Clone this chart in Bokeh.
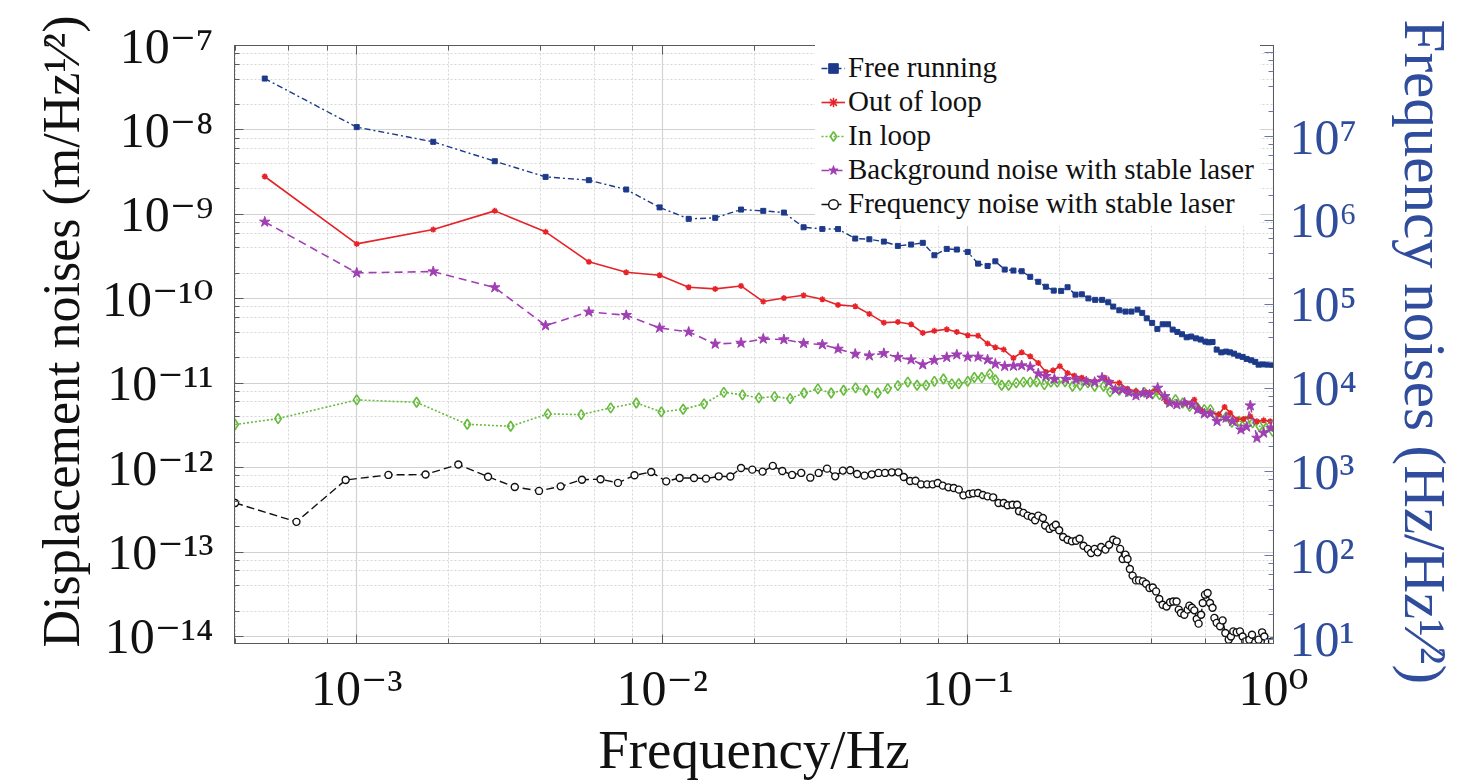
from bokeh.plotting import figure
from bokeh.models import (Range1d, LogAxis, LogScale, LogTicker, Legend, LegendItem,
                          CustomJSTickFormatter)
from bokeh.embed import file_html
from bokeh.resources import INLINE

# ---------------- data ----------------
free_f = [5.0e-4, 1.0e-3, 1.78e-3, 2.83e-3, 4.15e-3, 5.75e-3, 7.62e-3, 9.80e-3, 1.22e-2, 1.49e-2,
          1.81e-2, 2.14e-2, 2.50e-2, 2.90e-2, 3.34e-2, 3.76e-2, 4.28e-2, 4.76e-2, 5.31e-2, 5.90e-2,
          6.52e-2, 7.12e-2, 7.77e-2, 8.53e-2, 9.20e-2, 0.0999, 0.108, 0.116, 0.123, 0.132,
          0.141, 0.150, 0.160, 0.170, 0.180, 0.191, 0.202, 0.212, 0.225, 0.236,
          0.248, 0.261, 0.275, 0.288, 0.299, 0.313, 0.328, 0.343, 0.359, 0.372,
          0.385, 0.401, 0.417, 0.434, 0.452, 0.468, 0.485, 0.502, 0.520, 0.538,
          0.558, 0.578, 0.599, 0.614, 0.632, 0.652, 0.675, 0.700, 0.721, 0.743,
          0.766, 0.793, 0.817, 0.846, 0.872, 0.894, 0.922, 0.957, 0.994]
free_v = [4.06e-8, 1.08e-8, 7.23e-9, 4.26e-9, 2.78e-9, 2.54e-9, 1.97e-9, 1.21e-9, 8.85e-10, 9.09e-10,
          1.14e-9, 1.10e-9, 1.05e-9, 7.03e-10, 6.73e-10, 6.70e-10, 5.17e-10, 5.07e-10, 4.76e-10, 4.23e-10,
          4.39e-10, 4.60e-10, 3.28e-10, 3.90e-10, 3.83e-10, 3.59e-10, 2.61e-10, 2.45e-10, 2.78e-10, 2.22e-10,
          2.16e-10, 2.12e-10, 1.82e-10, 1.59e-10, 1.39e-10, 1.25e-10, 1.24e-10, 1.37e-10, 1.12e-10, 1.13e-10,
          1.01e-10, 9.71e-11, 9.71e-11, 9.09e-11, 8.09e-11, 7.31e-11, 7.06e-11, 7.06e-11, 7.45e-11, 6.81e-11,
          5.87e-11, 5.18e-11, 4.40e-11, 4.99e-11, 4.99e-11, 4.32e-11, 4.05e-11, 3.80e-11, 3.50e-11, 3.57e-11,
          3.40e-11, 3.29e-11, 3.11e-11, 3.05e-11, 3.08e-11, 2.50e-11, 2.32e-11, 2.37e-11, 2.32e-11, 2.24e-11,
          2.12e-11, 2.05e-11, 1.94e-11, 1.87e-11, 1.79e-11, 1.66e-11, 1.67e-11, 1.66e-11, 1.65e-11]

out_f = [5.0e-4, 1.0e-3, 1.78e-3, 2.83e-3, 4.15e-3, 5.75e-3, 7.62e-3, 9.80e-3, 1.22e-2, 1.49e-2,
         1.81e-2, 2.14e-2, 2.50e-2, 2.90e-2, 3.34e-2, 3.76e-2, 4.28e-2, 4.76e-2, 5.31e-2, 5.90e-2,
         6.52e-2, 7.12e-2, 7.77e-2, 8.53e-2, 9.20e-2, 0.0999, 0.108, 0.116, 0.123, 0.131,
         0.141, 0.150, 0.160, 0.170, 0.180, 0.190, 0.200, 0.212, 0.223, 0.236,
         0.260, 0.280, 0.292, 0.313, 0.333, 0.355, 0.383, 0.413, 0.446, 0.481,
         0.518, 0.551, 0.586, 0.622, 0.662, 0.692, 0.722, 0.760, 0.799, 0.840,
         0.883, 0.929, 0.976]
out_v = [2.81e-9, 4.47e-10, 6.61e-10, 1.10e-9, 6.21e-10, 2.74e-10, 2.06e-10, 1.90e-10, 1.37e-10, 1.31e-10,
         1.42e-10, 9.27e-11, 1.02e-10, 1.10e-10, 9.86e-11, 8.47e-11, 8.15e-11, 6.62e-11, 5.22e-11, 5.32e-11,
         4.99e-11, 3.94e-11, 4.17e-11, 4.35e-11, 4.05e-11, 3.69e-11, 3.66e-11, 2.95e-11, 2.66e-11, 2.50e-11,
         1.99e-11, 2.32e-11, 2.08e-11, 1.74e-11, 1.36e-11, 1.42e-11, 1.59e-11, 1.32e-11, 1.23e-11, 1.16e-11,
         1.05e-11, 1.16e-11, 1.03e-11, 1.01e-11, 8.56e-12, 8.02e-12, 7.80e-12, 8.40e-12, 6.10e-12, 5.58e-12,
         5.84e-12, 6.39e-12, 4.65e-12, 4.45e-12, 4.25e-12, 5.24e-12, 4.45e-12, 3.71e-12, 3.77e-12, 4.05e-12,
         3.54e-12, 3.63e-12, 3.54e-12]

in_f = [4.0e-4, 5.53e-4, 1.0e-3, 1.57e-3, 2.30e-3, 3.19e-3, 4.22e-3, 5.43e-3, 6.78e-3, 8.22e-3,
        9.93e-3, 1.17e-2, 1.37e-2, 1.59e-2, 1.83e-2, 2.07e-2, 2.33e-2, 2.62e-2, 2.91e-2, 3.23e-2,
        3.57e-2, 3.92e-2, 4.29e-2, 4.65e-2, 5.07e-2, 5.47e-2, 5.90e-2, 6.36e-2, 6.82e-2, 7.30e-2,
        7.77e-2, 8.32e-2, 8.86e-2, 9.34e-2, 0.0999, 0.105, 0.111, 0.118, 0.123, 0.129,
        0.136, 0.144, 0.152, 0.160, 0.168, 0.178, 0.187, 0.196, 0.208, 0.220,
        0.233, 0.247, 0.260, 0.278, 0.292, 0.313, 0.333, 0.355, 0.378, 0.403,
        0.424, 0.451, 0.478, 0.505, 0.532, 0.565, 0.594, 0.622, 0.662, 0.700,
        0.731, 0.772, 0.812, 0.855, 0.900, 0.946, 0.994]
in_v = [3.24e-12, 3.81e-12, 6.34e-12, 5.94e-12, 3.26e-12, 3.09e-12, 4.33e-12, 4.25e-12, 5.10e-12, 5.84e-12,
        4.57e-12, 4.91e-12, 5.69e-12, 7.80e-12, 7.27e-12, 6.70e-12, 6.94e-12, 6.57e-12, 7.67e-12, 8.56e-12,
        7.67e-12, 8.24e-12, 8.80e-12, 8.24e-12, 7.67e-12, 8.63e-12, 9.37e-12, 1.03e-11, 9.45e-12, 9.45e-12,
        1.05e-11, 1.12e-11, 9.81e-12, 9.85e-12, 1.05e-11, 1.17e-11, 1.17e-11, 1.29e-11, 1.10e-11, 9.45e-12,
        9.45e-12, 1.01e-11, 1.03e-11, 1.03e-11, 1.04e-11, 9.63e-12, 1.03e-11, 1.03e-11, 1.04e-11, 9.19e-12,
        9.45e-12, 1.01e-11, 9.19e-12, 9.19e-12, 7.89e-12, 8.24e-12, 8.02e-12, 7.67e-12, 7.80e-12, 7.53e-12,
        7.33e-12, 6.10e-12, 6.39e-12, 5.84e-12, 5.32e-12, 5.10e-12, 4.87e-12, 4.87e-12, 4.05e-12, 3.99e-12,
        3.44e-12, 3.54e-12, 3.54e-12, 3.39e-12, 3.09e-12, 2.95e-12, 2.69e-12]

bg_f = [5.0e-4, 1.0e-3, 1.78e-3, 2.83e-3, 4.15e-3, 5.75e-3, 7.62e-3, 9.80e-3, 1.22e-2, 1.49e-2,
        1.81e-2, 2.14e-2, 2.50e-2, 2.90e-2, 3.34e-2, 3.76e-2, 4.28e-2, 4.76e-2, 5.31e-2, 5.90e-2,
        6.52e-2, 7.12e-2, 7.77e-2, 8.53e-2, 9.20e-2, 0.0999, 0.108, 0.116, 0.123, 0.132,
        0.141, 0.150, 0.160, 0.170, 0.180, 0.192, 0.209, 0.226, 0.244, 0.260,
        0.275, 0.289, 0.304, 0.320, 0.336, 0.355, 0.375, 0.393, 0.418, 0.441,
        0.458, 0.483, 0.512, 0.541, 0.565, 0.594, 0.622, 0.654, 0.700, 0.735,
        0.783, 0.817, 0.840, 0.883, 0.929, 0.981]
bg_v = [8.15e-10, 2.03e-10, 2.10e-10, 1.36e-10, 4.82e-11, 7.00e-11, 6.38e-11, 4.52e-11, 4.05e-11, 2.92e-11,
        3.00e-11, 3.35e-11, 3.29e-11, 2.97e-11, 2.87e-11, 2.55e-11, 2.22e-11, 2.12e-11, 2.26e-11, 2.03e-11,
        1.90e-11, 1.66e-11, 1.87e-11, 2.03e-11, 2.18e-11, 2.05e-11, 2.05e-11, 1.90e-11, 1.69e-11, 1.59e-11,
        1.60e-11, 1.62e-11, 1.56e-11, 1.30e-11, 1.21e-11, 1.12e-11, 1.12e-11, 1.10e-11, 1.05e-11, 1.03e-11,
        1.16e-11, 1.03e-11, 8.40e-12, 8.40e-12, 7.80e-12, 7.13e-12, 7.67e-12, 7.33e-12, 8.80e-12, 7.00e-12,
        5.84e-12, 5.58e-12, 5.84e-12, 5.58e-12, 4.87e-12, 4.36e-12, 4.36e-12, 3.54e-12, 3.88e-12, 3.54e-12,
        2.82e-12, 3.04e-12, 5.43e-12, 2.25e-12, 2.58e-12, 2.95e-12]

fn_f = [4.0e-4, 6.35e-4, 9.2e-4, 1.27e-3, 1.68e-3, 2.15e-3, 2.69e-3, 3.29e-3, 3.95e-3, 4.65e-3,
        5.46e-3, 6.28e-3, 7.16e-3, 8.11e-3, 9.20e-3, 1.03e-2, 1.14e-2, 1.27e-2, 1.39e-2, 1.53e-2,
        1.67e-2, 1.81e-2, 1.97e-2, 2.13e-2, 2.30e-2, 2.47e-2, 2.66e-2, 2.85e-2, 3.05e-2, 3.25e-2,
        3.46e-2, 3.68e-2, 3.90e-2, 4.12e-2, 4.34e-2, 4.59e-2, 4.85e-2, 5.10e-2, 5.36e-2, 5.64e-2,
        5.93e-2, 6.17e-2, 6.47e-2, 6.74e-2, 7.03e-2, 7.36e-2, 7.67e-2, 7.97e-2, 8.28e-2, 8.64e-2,
        8.99e-2, 9.34e-2, 9.67e-2, 0.101, 0.104, 0.108, 0.112, 0.116, 0.121, 0.126,
        0.131, 0.135, 0.140, 0.145, 0.147, 0.152, 0.157, 0.162, 0.166, 0.170,
        0.176, 0.179, 0.185, 0.190, 0.194, 0.199, 0.205, 0.212, 0.219, 0.226,
        0.232, 0.239, 0.247, 0.253, 0.260, 0.266, 0.273, 0.282, 0.290, 0.299,
        0.307, 0.315, 0.321, 0.328, 0.333, 0.339, 0.346, 0.355, 0.363, 0.374,
        0.383, 0.393, 0.403, 0.413, 0.423, 0.434, 0.447, 0.459, 0.470, 0.482,
        0.490, 0.498, 0.511, 0.524, 0.531, 0.541, 0.551, 0.561, 0.569, 0.580,
        0.587, 0.597, 0.609, 0.620, 0.632, 0.641, 0.652, 0.669, 0.682, 0.696,
        0.714, 0.726, 0.739, 0.758, 0.777, 0.793, 0.809, 0.834, 0.851, 0.872,
        0.894, 0.918, 0.934, 0.957, 0.989]
fn_v = [3.82e-13, 2.28e-13, 7.15e-13, 8.2e-13, 8.3e-13, 1.09e-12, 7.8e-13, 5.9e-13, 5.3e-13, 6.0e-13,
        7.2e-13, 7.3e-13, 6.6e-13, 8.11e-13, 8.89e-13, 6.88e-13, 7.55e-13, 7.55e-13, 7.41e-13, 7.89e-13,
        7.85e-13, 9.92e-13, 9.47e-13, 8.97e-13, 1.05e-12, 9.14e-13, 8.20e-13, 8.66e-13, 7.61e-13, 8.66e-13,
        9.73e-13, 7.89e-13, 9.22e-13, 9.30e-13, 8.42e-13, 8.04e-13, 8.33e-13, 8.66e-13, 8.66e-13, 8.80e-13,
        8.80e-13, 7.76e-13, 6.96e-13, 7.00e-13, 6.34e-13, 6.34e-13, 6.34e-13, 6.59e-13, 6.12e-13, 5.84e-13,
        5.75e-13, 5.49e-13, 4.70e-13, 4.88e-13, 4.96e-13, 5.00e-13, 4.75e-13, 4.57e-13, 4.45e-13, 3.82e-13,
        3.82e-13, 3.58e-13, 3.63e-13, 3.63e-13, 3.04e-13, 2.91e-13, 2.70e-13, 2.60e-13, 2.38e-13, 2.70e-13,
        2.53e-13, 2.06e-13, 1.88e-13, 1.98e-13, 2.11e-13, 1.81e-13, 1.51e-13, 1.40e-13, 1.34e-13, 1.36e-13,
        1.44e-13, 1.19e-13, 1.09e-13, 9.76e-14, 1.09e-13, 9.92e-14, 1.15e-13, 1.07e-13, 1.22e-13, 1.40e-13,
        1.34e-13, 1.09e-13, 8.29e-14, 9.32e-14, 8.29e-14, 6.31e-14, 5.26e-14, 4.62e-14, 4.62e-14, 4.50e-14,
        4.22e-14, 3.76e-14, 3.81e-14, 3.42e-14, 2.78e-14, 2.38e-14, 2.27e-14, 2.54e-14, 2.60e-14, 2.60e-14,
        2.08e-14, 1.90e-14, 1.81e-14, 2.08e-14, 2.32e-14, 2.19e-14, 2.04e-14, 1.61e-14, 1.42e-14, 1.81e-14,
        2.49e-14, 3.13e-14, 3.28e-14, 2.49e-14, 2.19e-14, 1.66e-14, 1.45e-14, 1.32e-14, 1.55e-14, 1.10e-14,
        9.17e-15, 1.00e-14, 1.15e-14, 1.12e-14, 1.15e-14, 1.00e-14, 8.75e-15, 9.17e-15, 1.05e-14, 8.51e-15,
        9.17e-15, 1.12e-14, 1.00e-14, 8.51e-15, 8.75e-15]

series_labels = ["Free running", "Out of loop", "In loop",
                 "Background noise with stable laser", "Frequency noise with stable laser"]
right_tick_exps = [1, 2, 3, 4, 5, 6, 7]
x_title = "Frequency/Hz"
left_title = "\u00a0\u00a0Displacement noises (m/Hz\u00b9\u2044\u00b2)"
right_title = "\u00a0Frequency noises (Hz/Hz\u00b9\u2044\u00b2)"

# ---------------- styling ----------------
FONT = "Liberation Serif"
TICK_FONT = "Liberation Serif, DejaVu Serif"
BLUE = "#1d3a8a"
RED = "#e52329"
GREEN = "#66bb3c"
PURPLE = "#a03fb3"
BLACK = "#111111"
AXBLUE = "#2f4d9c"
AXC = "#5a5a5a"

W, H = 1472, 782
FL, FT = 234, 45
FW, FH = 1039, 598
FR = W - FL - FW
FB = H - FT - FH

x_lo, x_hi = 10 ** -3.4, 1.0005
y_lo, y_hi = 10 ** -14.083, 1.0005e-7
r_lo, r_hi = 10 ** 0.952, 10 ** 8.086

p = figure(width=W, height=H, x_axis_type="log", y_axis_type="log",
           x_range=Range1d(x_lo, x_hi), y_range=Range1d(y_lo, y_hi),
           output_backend="svg", toolbar_location=None,
           min_border_left=FL, min_border_right=FR, min_border_top=FT, min_border_bottom=FB)
p.extra_y_ranges = {"right": Range1d(r_lo, r_hi)}
p.extra_y_scales = {"right": LogScale()}
p.background_fill_color = "white"
p.border_fill_color = "white"
p.outline_line_color = AXC

SUP_JS = """
const m = {"-": "\\u207b", "0": "\\u2070", "1": "\\u00b9", "2": "\\u00b2", "3": "\\u00b3",
           "4": "\\u2074", "5": "\\u2075", "6": "\\u2076", "7": "\\u2077", "8": "\\u2078",
           "9": "\\u2079"};
const e = Math.round(Math.log10(tick));
if (show.length > 0 && show.indexOf(e) < 0) { return ""; }
let s = "";
for (const ch of String(e)) { s += m[ch]; }
return "10" + s;
"""


def pow_formatter(show=()):
    return CustomJSTickFormatter(code=SUP_JS, args={"show": list(show)})


def style_axis(ax, color=AXC, labels=True):
    ax.ticker = LogTicker(desired_num_ticks=10)
    ax.major_tick_in = 9
    ax.major_tick_out = 0
    ax.minor_tick_in = 5
    ax.minor_tick_out = 0
    ax.axis_line_color = AXC
    ax.major_tick_line_color = color
    ax.minor_tick_line_color = color
    ax.major_label_text_font = TICK_FONT
    ax.axis_label_text_font = FONT
    ax.axis_label_text_font_style = "normal"
    if labels:
        ax.major_label_text_font_size = "50px"
        ax.major_label_text_color = "#111111"
    else:
        ax.major_label_text_font_size = "9px"
        ax.major_label_text_alpha = 0.0


xa = p.xaxis[0]
style_axis(xa)
xa.formatter = pow_formatter()
xa.major_label_standoff = 16
xa.axis_label = x_title
xa.axis_label_text_font_size = "55px"
xa.axis_label_text_color = "#111111"
xa.axis_label_standoff = 0

ya = p.yaxis[0]
style_axis(ya)
ya.formatter = pow_formatter()
ya.major_label_standoff = 21
ya.axis_label = left_title
ya.axis_label_text_font_size = "52px"
ya.axis_label_text_color = "#111111"
ya.axis_label_standoff = 9

top_ax = LogAxis()
style_axis(top_ax, labels=False)
p.add_layout(top_ax, "above")

right_ax = LogAxis(y_range_name="right")
style_axis(right_ax, "#6a78a8")
right_ax.formatter = pow_formatter(right_tick_exps)
right_ax.major_label_standoff = 16
right_ax.major_label_text_color = AXBLUE
right_ax.axis_label = right_title
right_ax.axis_label_text_font_size = "59px"
right_ax.axis_label_text_color = AXBLUE
right_ax.axis_label_standoff = 32
p.add_layout(right_ax, "right")

for g in (p.xgrid[0], p.ygrid[0]):
    g.ticker = LogTicker(desired_num_ticks=10)
    g.grid_line_color = "#d2d2d2"
    g.grid_line_width = 1.2
    g.minor_grid_line_color = "#d6d6d6"
    g.minor_grid_line_dash = "2 2"
    g.minor_grid_line_width = 1

# ---------------- series ----------------
def trim(a, b):
    n = min(len(a), len(b))
    return a[:n], b[:n]

fx, fy = trim(free_f, free_v)
l1 = p.line(fx, fy, line_color=BLUE, line_width=1.4, line_dash="6 3 2 3")
m1 = p.scatter(fx, fy, marker="square", size=5, color=BLUE)

gx, gy = trim(in_f, in_v)
l3 = p.line(gx, gy, line_color=GREEN, line_width=1.6, line_dash="2 2")
m3 = p.scatter(gx, gy, marker="diamond", size=10, line_color=GREEN, fill_color="white",
               fill_alpha=0.0, line_width=1.6)

ox, oy = trim(out_f, out_v)
l2 = p.line(ox, oy, line_color=RED, line_width=1.6)
m2 = p.scatter(ox, oy, marker="asterisk", size=6, line_color=RED, line_width=1.5)

bx, by = trim(bg_f, bg_v)
l4 = p.line(bx, by, line_color=PURPLE, line_width=1.6, line_dash="8 5")
m4 = p.scatter(bx, by, marker="star", size=11, color=PURPLE)

kx, ky = trim(fn_f, fn_v)
l5 = p.line(kx, ky, line_color=BLACK, line_width=1.4, line_dash="8 4")
m5 = p.scatter(kx, ky, marker="circle", size=7, line_color=BLACK, fill_color="white",
               line_width=1.4)

legend = Legend(items=[
    LegendItem(label=series_labels[0], renderers=[l1, m1]),
    LegendItem(label=series_labels[1], renderers=[l2, m2]),
    LegendItem(label=series_labels[2], renderers=[l3, m3]),
    LegendItem(label=series_labels[3], renderers=[l4, m4]),
    LegendItem(label=series_labels[4], renderers=[l5, m5]),
], location=(581, 417))
legend.label_text_font = FONT
legend.label_text_font_size = "29px"
legend.label_text_color = "#111111"
legend.glyph_width = 24
legend.glyph_height = 30
legend.label_height = 30
legend.spacing = 1
legend.padding = 6
legend.margin = 0
legend.label_standoff = 3
legend.border_line_alpha = 0
legend.background_fill_color = "white"
legend.background_fill_alpha = 1.0
p.add_layout(legend)

open("out.html", "w").write(file_html(p, INLINE))
